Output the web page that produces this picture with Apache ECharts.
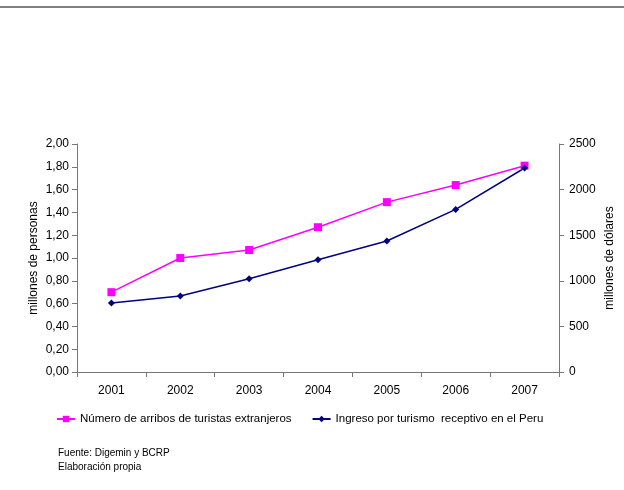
<!DOCTYPE html>
<html>
<head>
<meta charset="utf-8">
<script src="https://cdn.jsdelivr.net/npm/echarts@6/dist/echarts.min.js"></script>
<style>
  html, body { margin: 0; padding: 0; background: #fff; }
  #chart { width: 624px; height: 490px; }
</style>
</head>
<body>
<div id="chart"></div>
<script>
// datos
const years = ['2001', '2002', '2003', '2004', '2005', '2006', '2007'];
const arribos = [0.70, 1.00, 1.07, 1.27, 1.49, 1.64, 1.81];     // millones de personas
const ingresos = [757, 833, 1023, 1231, 1436, 1783, 2237];      // millones de dolares

const font = 'Liberation Sans, Arial, sans-serif';
const axisColor = '#777';

const chart = echarts.init(document.getElementById('chart'));

chart.setOption({
    backgroundColor: '#fff',
    animation: false,
    textStyle: { fontFamily: font, color: '#000' },
    grid: { left: 77, right: 65, top: 144, bottom: 118, containLabel: false, outerBoundsMode: 'none' },
    xAxis: {
        type: 'category',
        data: years,
        boundaryGap: true,
        axisLine: { lineStyle: { color: axisColor, width: 1 } },
        axisTick: { show: true, length: 5, lineStyle: { color: axisColor } },
        axisLabel: { margin: 13, fontSize: 12, color: '#000', fontFamily: font },
        splitLine: { show: false }
    },
    yAxis: [{
        type: 'value',
        min: 0,
        max: 2,
        interval: 0.2,
        name: 'millones de personas',
        nameLocation: 'middle',
        nameGap: 37,
        nameMoveOverlap: false,
        nameTextStyle: { fontSize: 12, color: '#000', fontFamily: font },
        axisLine: { show: true, lineStyle: { color: axisColor } },
        axisTick: { show: true, length: 5, lineStyle: { color: axisColor } },
        axisLabel: {
            margin: 8,
            fontSize: 12,
            color: '#000',
            fontFamily: font,
            formatter: v => v.toFixed(2).replace('.', ',')
        },
        splitLine: { show: false }
    }, {
        type: 'value',
        min: 0,
        max: 2500,
        interval: 500,
        position: 'right',
        name: 'millones de dólares',
        nameLocation: 'middle',
        nameGap: 45,
        nameMoveOverlap: false,
        nameTextStyle: { fontSize: 12, color: '#000', fontFamily: font },
        axisLine: { show: true, lineStyle: { color: axisColor } },
        axisTick: { show: true, length: 5, lineStyle: { color: axisColor } },
        axisLabel: { margin: 10, fontSize: 12, color: '#000', fontFamily: font, formatter: v => String(v) },
        splitLine: { show: false }
    }],
    legend: {
        left: 51,
        top: 408,
        itemGap: 20,
        itemWidth: 18,
        itemHeight: 8,
        textStyle: { fontSize: 11.5, color: '#000', fontFamily: font },
        data: ['Número de arribos de turistas extranjeros', 'Ingreso por turismo  receptivo en el Peru']
    },
    series: [{
        name: 'Número de arribos de turistas extranjeros',
        type: 'line',
        yAxisIndex: 0,
        data: arribos,
        symbol: 'rect',
        symbolSize: 8,
        itemStyle: { color: '#ff00ff' },
        lineStyle: { color: '#ff00ff', width: 1.5 }
    }, {
        name: 'Ingreso por turismo  receptivo en el Peru',
        type: 'line',
        yAxisIndex: 1,
        data: ingresos,
        symbol: 'diamond',
        symbolSize: 7,
        itemStyle: { color: '#000080' },
        lineStyle: { color: '#000080', width: 1.5 }
    }],
    graphic: [{
        type: 'rect',
        left: 0,
        top: 6,
        shape: { width: 624, height: 2 },
        style: { fill: '#808080' }
    }, {
        type: 'text',
        left: 58,
        top: 448,
        style: { text: 'Fuente: Digemin y BCRP', font: '10px ' + font, fill: '#000' }
    }, {
        type: 'text',
        left: 58,
        top: 462,
        style: { text: 'Elaboración propia', font: '10px ' + font, fill: '#000' }
    }]
});
</script>
</body>
</html>
